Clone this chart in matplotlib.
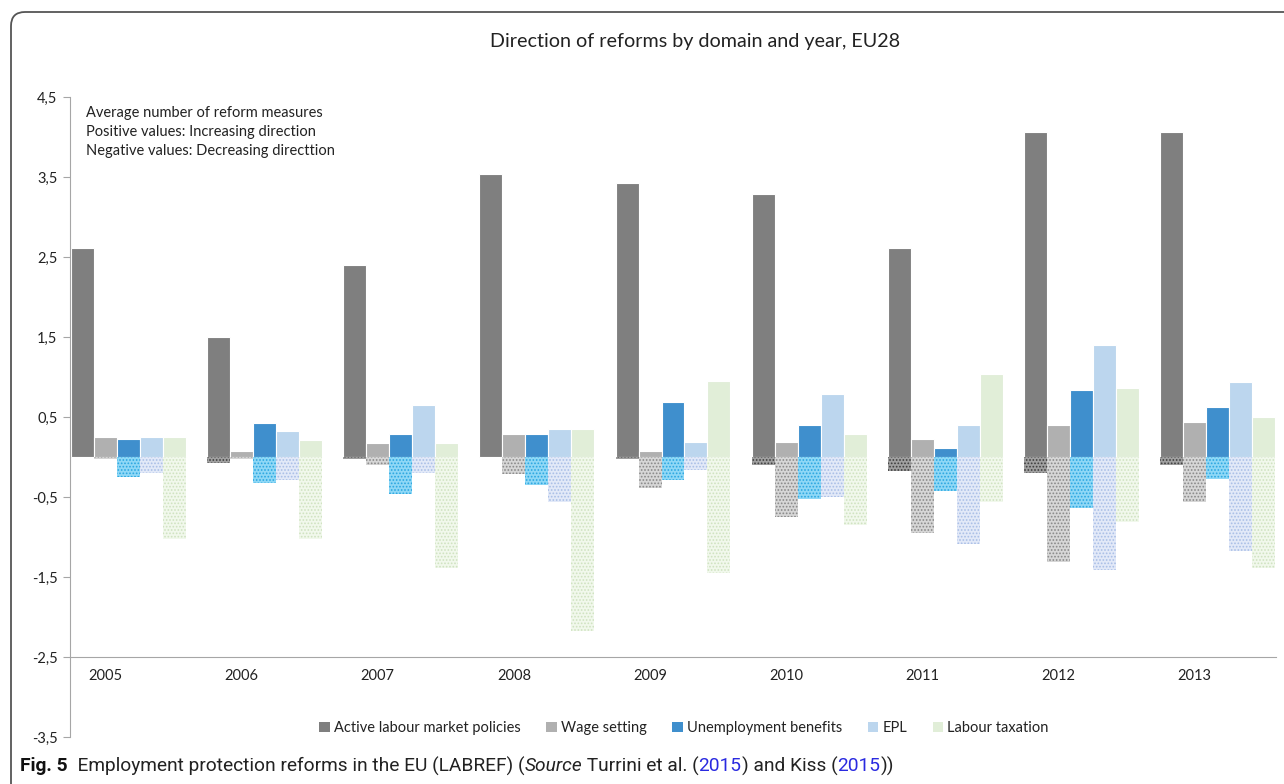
import matplotlib
matplotlib.use("Agg")
import matplotlib.pyplot as plt
import numpy as np
from matplotlib.patches import FancyBboxPatch, Patch

years = ["2005", "2006", "2007", "2008", "2009", "2010", "2011", "2012", "2013"]
series = ["Active labour market policies", "Wage setting", "Unemployment benefits", "EPL", "Labour taxation"]

# Increasing direction (positive)
almp_pos = [2.61, 1.50, 2.40, 3.54, 3.43, 3.29, 2.61, 4.06, 4.06]
wage_pos = [0.25, 0.08, 0.18, 0.29, 0.08, 0.19, 0.22, 0.40, 0.44]
ub_pos   = [0.22, 0.43, 0.29, 0.29, 0.69, 0.40, 0.11, 0.84, 0.62]
epl_pos  = [0.25, 0.32, 0.65, 0.35, 0.19, 0.79, 0.40, 1.40, 0.94]
lt_pos   = [0.25, 0.21, 0.18, 0.35, 0.95, 0.29, 1.04, 0.86, 0.50]

# Decreasing direction (negative)
almp_neg = [0.00, -0.07, -0.03, 0.00, -0.03, -0.10, -0.18, -0.20, -0.10]
wage_neg = [-0.03, -0.03, -0.10, -0.21, -0.39, -0.75, -0.95, -1.31, -0.56]
ub_neg   = [-0.25, -0.32, -0.46, -0.35, -0.29, -0.53, -0.43, -0.64, -0.28]
epl_neg  = [-0.20, -0.29, -0.20, -0.56, -0.16, -0.50, -1.09, -1.41, -1.17]
lt_neg   = [-1.03, -1.03, -1.39, -2.18, -1.45, -0.85, -0.56, -0.81, -1.39]

yticks = [4.5, 3.5, 2.5, 1.5, 0.5, -0.5, -1.5, -2.5, -3.5]
ytick_labels = ["4,5", "3,5", "2,5", "1,5", "0,5", "-0,5", "-1,5", "-2,5", "-3,5"]

pos_colors = ["#7f7f7f", "#b0b0b0", "#3f8fcd", "#bcd6ee", "#e1eed8"]
neg_faces = ["#a0a0a0", "#d6d6d6", "#8fd8f6", "#e2e9f8", "#f1f8ec"]
neg_hatch = ["#3c3c3c", "#888888", "#2aa6e0", "#a9bee6", "#cfe2c0"]

pos_data = [almp_pos, wage_pos, ub_pos, epl_pos, lt_pos]
neg_data = [almp_neg, wage_neg, ub_neg, epl_neg, lt_neg]

plt.rcParams['font.family'] = ['Lato', 'DejaVu Sans']
plt.rcParams['hatch.linewidth'] = 0.8

fig = plt.figure(figsize=(12.84, 7.84), dpi=100)
ax = fig.add_axes([70/1284, 1-737/784, (1276-70)/1284, (737-97)/784])

x = np.arange(len(years))
w = 0.169
offsets = [-1, 0, 1, 2, 3]
for k in range(5):
    ax.bar(x + offsets[k]*w, pos_data[k], width=w, color=pos_colors[k],
           edgecolor="white", linewidth=0.8, zorder=2)
    ax.bar(x + offsets[k]*w, neg_data[k], width=w, color=neg_faces[k],
           edgecolor=neg_hatch[k], linewidth=0, hatch=".....", zorder=2)

ax.set_xlim(-0.262, 8.60)
ax.set_ylim(-3.5, 4.5)
ax.set_yticks(yticks)
ax.set_yticklabels(ytick_labels)
ax.set_xticks(x)
ax.set_xticklabels(years)

for s in ["top", "right"]:
    ax.spines[s].set_visible(False)
ax.spines["bottom"].set_position(("data", -2.5))
ax.spines["bottom"].set_color("#a6a6a6")
ax.spines["left"].set_color("#a6a6a6")
ax.tick_params(axis="x", length=0, pad=9, labelsize=10.5, colors="#222222")
ax.tick_params(axis="y", length=5, width=0.8, color="#a6a6a6", pad=4, labelsize=10.5, labelcolor="#222222")

ax.text(16/1206, 1-(106-97)/640, "Average number of reform measures\nPositive values: Increasing direction\nNegative values: Decreasing directtion",
        transform=ax.transAxes, ha="left", va="top", fontsize=10.5, color="#222222", linespacing=1.45)

fig.text(695/1284, 1-42/784, "Direction of reforms by domain and year, EU28", ha="center", va="center",
         fontsize=14.2, color="#222222")

handles = [Patch(facecolor=c, edgecolor="none") for c in pos_colors]
fig.legend(handles, series, loc="center", bbox_to_anchor=(684/1284, 1-728/784), ncol=5,
           frameon=False, fontsize=10.5, handlelength=0.7, handleheight=0.7, handletextpad=0.3,
           columnspacing=1.75, labelcolor="#222222")

# outer frame
frame = FancyBboxPatch((11, -20), 1320, 784-12+20, boxstyle="round,pad=0,rounding_size=14",
                       transform=None, facecolor="none", edgecolor="#555555", linewidth=1.3,
                       clip_on=False)
fig.patches.append(frame)

# caption
pieces = [("Fig. 5", "bold", "normal", "#111111"), ("  Employment protection reforms in the EU (LABREF) (", "normal", "normal", "#222222"),
          ("Source", "normal", "italic", "#222222"), (" Turrini et al. (", "normal", "normal", "#222222"),
          ("2015", "normal", "normal", "#2a2ae0"), (") and Kiss (", "normal", "normal", "#222222"),
          ("2015", "normal", "normal", "#2a2ae0"), ("))", "normal", "normal", "#222222")]
fig.canvas.draw()
renderer = fig.canvas.get_renderer()
xpos = 20
ypix = 784 - 766
for txt, wt, st, col in pieces:
    t = fig.text(xpos/1284, ypix/784, txt, ha="left", va="center", fontsize=13.8, fontweight=wt,
                 fontstyle=st, color=col, family=["Roboto", "DejaVu Sans"])
    bb = t.get_window_extent(renderer=renderer)
    xpos += bb.width

fig.savefig("out.png", dpi=100)
